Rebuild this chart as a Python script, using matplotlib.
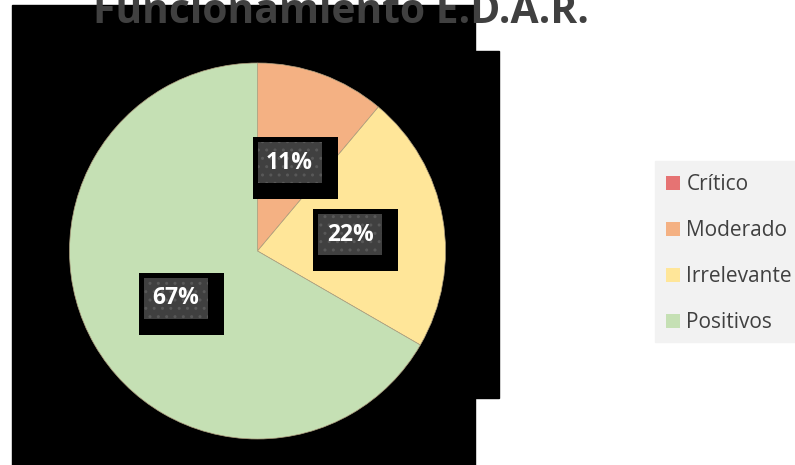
import matplotlib.pyplot as plt
from matplotlib.patches import Rectangle, Patch

# datos del gráfico
categorias = ['Crítico', 'Moderado', 'Irrelevante', 'Positivos']
valores = [0, 1, 2, 6]
colores = ['#E67373', '#F4B183', '#FFE699', '#C5E0B4']
titulo = 'Funcionamiento E.D.A.R.'

W, H = 795, 465
fig = plt.figure(figsize=(W / 100, H / 100), dpi=100)
fig.patch.set_facecolor('white')

# zonas negras del fondo
fig.patches.append(Rectangle((12 / W, 0), (475 - 12) / W, (465 - 5) / H,
                             transform=fig.transFigure, color='black', zorder=0))
fig.patches.append(Rectangle((475 / W, 1 - 398 / H), 24 / W, (398 - 51) / H,
                             transform=fig.transFigure, color='black', zorder=0))

# fondo de la leyenda
fig.patches.append(Rectangle((655 / W, 1 - 342 / H), (795 - 655) / W, (342 - 161) / H,
                             transform=fig.transFigure, color='#F2F2F2', zorder=0))

R = 188
ax = fig.add_axes([(257.5 - R) / W, (H - 251 - R) / H, 2 * R / W, 2 * R / H])
ax.set_zorder(2)
ax.patch.set_alpha(0)

wedges, textos, autotextos = ax.pie(
    valores, colors=colores, startangle=90, counterclock=False,
    autopct=lambda p: f'{p:.0f}%' if p > 0 else '', pctdistance=0.5,
    wedgeprops=dict(edgecolor='#B0A080', linewidth=0.5),
    textprops=dict(color='white', fontsize=16.5, fontweight='bold', family='Open Sans'))
ax.set_xlim(-1, 1)
ax.set_ylim(-1, 1)
ax.axis('off')

# cajas de las etiquetas
s = 1 / R
for t in autotextos:
    if not t.get_text():
        continue
    t.set_zorder(5)
    x, y = t.get_position()
    ax.add_patch(Rectangle((x - 37 * s, y - 36.5 * s), 85 * s, 62 * s,
                           facecolor='black', edgecolor='none', zorder=3))
    ax.add_patch(Rectangle((x - 32 * s, y - 20.5 * s), 64 * s, 41 * s,
                           facecolor='#404040', edgecolor='#585858', linewidth=0,
                           hatch='..', zorder=4))

fig.text(341 / W, 1 - 23 / H, titulo, ha='center', va='baseline', fontsize=29.3,
         fontweight='bold', color='#404040', family='Open Sans', zorder=10)

marcas = [Patch(facecolor=c, edgecolor='none') for c in colores]
fig.legend(marcas, categorias, loc='upper left', bbox_to_anchor=(666 / W, 1 - 174 / H),
           frameon=False, prop=dict(family='Open Sans', size=15), labelcolor='#404040',
           handlelength=0.68, handleheight=0.68, handletextpad=0.3,
           labelspacing=1.2, borderpad=0, borderaxespad=0)

fig.savefig('out.png', dpi=100)
